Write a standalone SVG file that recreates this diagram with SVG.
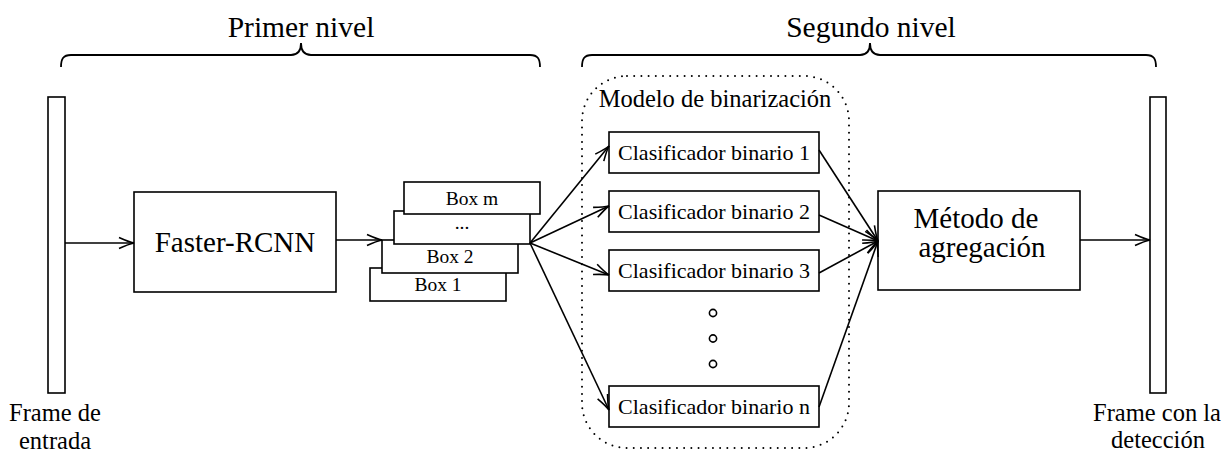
<svg xmlns="http://www.w3.org/2000/svg" width="1231" height="455" viewBox="0 0 1231 455">
  <defs>
    <style>
      text { font-family: "Liberation Serif", "Times New Roman", serif; fill: #000; text-anchor: middle; }
      .box { fill: #fff; stroke: #000; stroke-width: 1.6; }
      .line { fill: none; stroke: #000; stroke-width: 1.6; }
      .brace { fill: none; stroke: #000; stroke-width: 1.8; }
      .title { font-size: 29.5px; }
      .big { font-size: 29px; }
      .cls { font-size: 22px; }
      .small { font-size: 19.5px; }
      .cap { font-size: 24.5px; }
      .dotted { fill: none; stroke: #000; stroke-width: 2; stroke-dasharray: 0 7.2; stroke-linecap: round; }
      .dot { fill: #fff; stroke: #000; stroke-width: 1.6; }
    </style>
    <marker id="arrow" markerUnits="userSpaceOnUse" markerWidth="20" markerHeight="14" viewBox="-16 -7 18 14" refX="0" refY="0" orient="auto">
      <path d="M-15,-5.5 Q-5,-1 0,0 Q-5,1 -15,5.5" fill="none" stroke="#000" stroke-width="1.6"/>
    </marker>
  </defs>

  <!-- level titles and braces -->
  <g id="level-1">
    <text class="title" x="301" y="37">Primer nivel</text>
    <path class="brace" d="M61,67 C61,59 63,55 71,55 L291,55 C298,55 301,51 301,43 C301,51 304,55 311,55 L530,55 C538,55 540,59 540,67"/>
  </g>
  <g id="level-2">
    <text class="title" x="871" y="37">Segundo nivel</text>
    <path class="brace" d="M582,67 C582,59 584,55 592,55 L860,55 C867,55 870,51 870,43 C870,51 873,55 880,55 L1146,55 C1154,55 1156,59 1156,67"/>
  </g>

  <!-- binarization model container -->
  <g id="binarization-model">
    <rect class="dotted" x="582" y="76" width="267" height="372" rx="45" ry="45"/>
    <text class="cap" x="715" y="107">Modelo de binarización</text>
  </g>

  <!-- input frame -->
  <g id="input-frame">
    <rect class="box" x="48" y="97" width="17" height="296"/>
    <text class="cap" x="55" y="421">Frame de</text>
    <text class="cap" x="55" y="449">entrada</text>
  </g>

  <g id="faster-rcnn">
    <rect class="box" x="134" y="192" width="202" height="100"/>
    <text class="big" x="235" y="252">Faster-RCNN</text>
  </g>

  <!-- stacked proposal boxes -->
  <g id="box-1">
    <rect class="box" x="370" y="268" width="136" height="33"/>
    <text class="small" x="438" y="291">Box 1</text>
  </g>
  <g id="box-2">
    <rect class="box" x="382" y="240" width="136" height="33"/>
    <text class="small" x="450" y="263">Box 2</text>
  </g>
  <g id="box-ellipsis">
    <rect class="box" x="394" y="211" width="136" height="33"/>
    <text class="small" x="462" y="229">...</text>
  </g>
  <g id="box-m">
    <rect class="box" x="404" y="182" width="136" height="32"/>
    <text class="small" x="472" y="205">Box m</text>
  </g>

  <!-- binary classifiers -->
  <g id="classifier-1">
    <rect class="box" x="609" y="132" width="210" height="41"/>
    <text class="cls" x="714" y="160">Clasificador binario 1</text>
  </g>
  <g id="classifier-2">
    <rect class="box" x="609" y="191" width="210" height="41"/>
    <text class="cls" x="714" y="219">Clasificador binario 2</text>
  </g>
  <g id="classifier-3">
    <rect class="box" x="609" y="250" width="210" height="41"/>
    <text class="cls" x="714" y="278">Clasificador binario 3</text>
  </g>
  <g id="classifier-ellipsis">
    <circle class="dot" cx="713" cy="313" r="3.6"/>
    <circle class="dot" cx="713" cy="338.5" r="3.6"/>
    <circle class="dot" cx="713" cy="364" r="3.6"/>
  </g>
  <g id="classifier-n">
    <rect class="box" x="609" y="386" width="210" height="41"/>
    <text class="cls" x="714" y="414">Clasificador binario n</text>
  </g>

  <g id="aggregation">
    <rect class="box" x="878" y="191" width="202" height="99"/>
    <text class="big" x="976" y="228">Método de</text>
    <text class="big" x="982" y="257">agregación</text>
  </g>

  <!-- output frame -->
  <g id="output-frame">
    <rect class="box" x="1150" y="97" width="16" height="296"/>
    <text class="cap" x="1157" y="421">Frame con la</text>
    <text class="cap" x="1158" y="448">detección</text>
  </g>

  <!-- connectors -->
  <g id="connectors" class="line" marker-end="url(#arrow)">
    <path d="M65,243 L134,243"/>
    <path d="M336,240 L382,240"/>
    <path d="M530,243 L609,146"/>
    <path d="M530,243 L609,206"/>
    <path d="M530,243 L609,275"/>
    <path d="M530,243 L609,410"/>
    <path d="M819,150 L878,241"/>
    <path d="M819,215 L878,241"/>
    <path d="M819,273 L878,241"/>
    <path d="M819,407 L878,241"/>
    <path d="M1080,240 L1150,240"/>
  </g>
</svg>
